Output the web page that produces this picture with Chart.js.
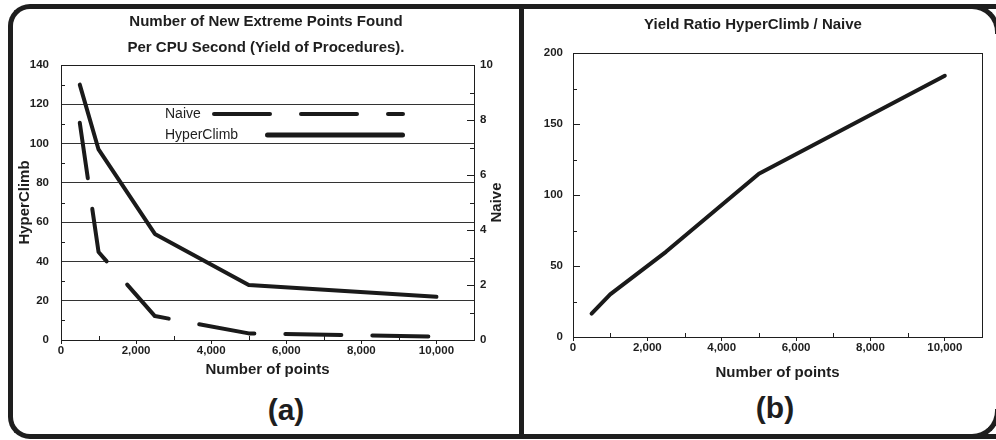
<!DOCTYPE html>
<html>
<head>
<meta charset="utf-8">
<script src="https://cdn.jsdelivr.net/npm/chart.js@4.4.1/dist/chart.umd.min.js"></script>
<style>
  html, body { margin: 0; padding: 0; background: #fff; overflow: hidden; }
  .stage { width: 996px; height: 440px; position: relative; overflow: hidden; font-family: "Liberation Sans", Arial, sans-serif; color: #1e1e1e; }
  .frame { position: absolute; left: 8px; top: 4px; width: 1000px; height: 435px; box-sizing: border-box; border: 5px solid #1e1e1e; border-right: none; border-radius: 22px 0 0 22px; }
  .corner { position: absolute; width: 30px; height: 30px; box-sizing: border-box; border: 5px solid #1e1e1e; }
  .corner.tr { left: 970px; top: 4px; border-left: none; border-bottom: none; border-top-right-radius: 28px; }
  .corner.br { left: 970px; top: 409px; border-left: none; border-top: none; border-bottom-right-radius: 28px; }
  .divider { position: absolute; left: 519px; top: 4px; width: 5px; height: 435px; background: #1e1e1e; }
  .panel { position: absolute; }
  .caption { position: absolute; font-weight: bold; font-size: 30px; line-height: 1; transform: translate(-50%, -50%); }
</style>
</head>
<body>
<div class="stage">
  <div class="frame"></div>
  <div class="corner tr"></div>
  <div class="corner br"></div>
  <div class="divider"></div>
  <div class="panel" style="left:13px; top:9px;"><canvas id="chart-yield" width="506" height="383"></canvas></div>
  <div class="panel" style="left:524px; top:9px;"><canvas id="chart-ratio" width="468" height="377"></canvas></div>
  <div class="caption" style="left:286px; top:410px;">(a)</div>
  <div class="caption" style="left:775px; top:408px;">(b)</div>
</div>

<script>
const pointCounts = [500, 1000, 2500, 5000, 10000];
const hyperClimbYield = [130, 97, 54, 28, 22];
const naiveYield = [7.9, 3.2, 0.87, 0.24, 0.12];
const yieldRatio = [16.5, 30, 60, 115, 184];

const xTickValues = [0, 2000, 4000, 6000, 8000, 10000];
const hyperClimbTicks = [0, 20, 40, 60, 80, 100, 120, 140];
const naiveTicks = [0, 2, 4, 6, 8, 10];
const ratioTicks = [0, 50, 100, 150, 200];

const INK = '#1e1e1e';
const FONT = '"Liberation Sans", Arial, sans-serif';
const tickFont = { family: FONT, size: 11.5, weight: 'bold' };
const titleFont = { family: FONT, size: 15, weight: 'bold' };

Chart.defaults.color = INK;
Chart.defaults.font.family = FONT;

const toPoints = (xs, ys) => xs.map((x, i) => ({ x, y: ys[i] }));
const fixedTicks = values => scale => { scale.ticks = values.map(v => ({ value: v })); };
const thousands = v => Number(v).toLocaleString('en-US');

// box around the plot area
const framePlugin = {
  id: 'frame',
  afterDraw(chart) {
    const { ctx, chartArea: a } = chart;
    ctx.save();
    ctx.strokeStyle = INK;
    ctx.lineWidth = 1;
    ctx.strokeRect(Math.round(a.left) + 0.5, Math.round(a.top) + 0.5, Math.round(a.width), Math.round(a.height));
    ctx.restore();
  }
};

// short tick marks pointing into the plot
const innerTicksPlugin = {
  id: 'innerTicks',
  afterDraw(chart, args, opts) {
    const { ctx } = chart;
    ctx.save();
    ctx.strokeStyle = INK;
    ctx.lineWidth = 1;
    (opts.marks || []).forEach(m => {
      const scale = chart.scales[m.axis];
      if (!scale) return;
      for (let v = m.from; v < scale.max; v += m.step) {
        const p = Math.round(scale.getPixelForValue(v)) + 0.5;
        ctx.beginPath();
        if (scale.position === 'bottom') {
          ctx.moveTo(p, scale.top); ctx.lineTo(p, scale.top - m.len);
        } else if (scale.position === 'left') {
          ctx.moveTo(scale.right, p); ctx.lineTo(scale.right + m.len, p);
        } else {
          ctx.moveTo(scale.left, p); ctx.lineTo(scale.left - m.len, p);
        }
        ctx.stroke();
      }
    });
    ctx.restore();
  }
};

// hand-placed legend inside the plot, using the dataset styles
const insetLegendPlugin = {
  id: 'insetLegend',
  afterDraw(chart, args, opts) {
    if (!opts.items) return;
    const { ctx, chartArea: a } = chart;
    ctx.save();
    opts.items.forEach(item => {
      const ds = chart.data.datasets[item.dataset];
      const y = a.top + item.y;
      ctx.fillStyle = INK;
      ctx.font = '14px ' + FONT;
      ctx.textBaseline = 'middle';
      ctx.fillText(ds.label, a.left + item.textX, y);
      ctx.strokeStyle = ds.borderColor;
      ctx.lineWidth = item.lineWidth;
      ctx.lineCap = 'round';
      ctx.setLineDash(ds.borderDash || []);
      ctx.beginPath();
      ctx.moveTo(a.left + item.from, y);
      ctx.lineTo(a.left + item.to, y);
      ctx.stroke();
    });
    ctx.restore();
  }
};

// right axis title that reads bottom-to-top like the left one
const sideTitlePlugin = {
  id: 'sideTitle',
  afterDraw(chart, args, opts) {
    if (!opts.text) return;
    const { ctx, chartArea: a } = chart;
    const scale = chart.scales[opts.axis];
    ctx.save();
    ctx.translate(scale.right - opts.inset, (a.top + a.bottom) / 2);
    ctx.rotate(-Math.PI / 2);
    ctx.fillStyle = INK;
    ctx.font = 'bold 15px ' + FONT;
    ctx.textAlign = 'center';
    ctx.textBaseline = 'middle';
    ctx.fillText(opts.text, 0, 0);
    ctx.restore();
  }
};

function xAxis(height, titlePadBottom) {
  return {
    type: 'linear',
    min: 0,
    max: 11000,
    afterBuildTicks: fixedTicks(xTickValues),
    afterFit: scale => { scale.height = height; },
    ticks: { font: tickFont, padding: 0, autoSkip: false, maxRotation: 0, callback: thousands },
    grid: { drawOnChartArea: false, drawTicks: true, tickLength: 4, tickColor: INK, tickWidth: 1 },
    border: { display: false },
    title: { display: true, text: 'Number of points', font: titleFont, padding: { top: 4, bottom: titlePadBottom } }
  };
}

new Chart(document.getElementById('chart-yield'), {
  type: 'line',
  data: {
    datasets: [
      {
        label: 'HyperClimb',
        data: toPoints(pointCounts, hyperClimbYield),
        yAxisID: 'y',
        borderColor: '#1a1a1a',
        borderWidth: 4,
        pointRadius: 0,
        borderJoinStyle: 'round',
        borderCapStyle: 'round'
      },
      {
        label: 'Naive',
        data: toPoints(pointCounts, naiveYield),
        yAxisID: 'y2',
        borderColor: '#1a1a1a',
        borderWidth: 4,
        borderDash: [56, 31],
        pointRadius: 0,
        borderJoinStyle: 'round',
        borderCapStyle: 'round'
      }
    ]
  },
  options: {
    responsive: false,
    animation: false,
    layout: { padding: 0 },
    plugins: {
      legend: { display: false },
      tooltip: { enabled: false },
      title: {
        display: true,
        text: ['Number of New Extreme Points Found', 'Per CPU Second (Yield of Procedures).'],
        font: { ...titleFont, lineHeight: 26 / 15 },
        color: INK,
        padding: { top: 0, bottom: 4 }
      },
      insetLegend: {
        items: [
          { dataset: 1, textX: 104, y: 49, from: 153, to: 342, lineWidth: 4 },
          { dataset: 0, textX: 104, y: 70, from: 206.5, to: 341.5, lineWidth: 5 }
        ]
      },
      sideTitle: { text: 'Naive', axis: 'y2', inset: 22 },
      innerTicks: {
        marks: [
          { axis: 'x', from: 1000, step: 2000, len: 4 },
          { axis: 'y', from: 10, step: 20, len: 4 },
          { axis: 'y2', from: 1, step: 2, len: 4 },
          { axis: 'y2', from: 2, step: 2, len: 7 }
        ]
      }
    },
    scales: {
      x: xAxis(52, 13),
      y: {
        position: 'left',
        min: 0,
        max: 140,
        afterBuildTicks: fixedTicks(hyperClimbTicks),
        afterFit: scale => { scale.width = 48; },
        ticks: { font: tickFont, padding: 12 },
        grid: { color: '#333', lineWidth: 1, drawTicks: false },
        border: { display: false },
        title: { display: true, text: 'HyperClimb', font: titleFont, padding: { top: 3, bottom: 0 } }
      },
      y2: {
        position: 'right',
        min: 0,
        max: 10,
        afterBuildTicks: fixedTicks(naiveTicks),
        afterFit: scale => { scale.width = 45; },
        ticks: { font: tickFont, padding: 6 },
        grid: { drawOnChartArea: false, drawTicks: false },
        border: { display: false }
      }
    }
  },
  plugins: [framePlugin, innerTicksPlugin, insetLegendPlugin, sideTitlePlugin]
});

new Chart(document.getElementById('chart-ratio'), {
  type: 'line',
  data: {
    datasets: [
      {
        label: 'Yield Ratio',
        data: toPoints(pointCounts, yieldRatio),
        borderColor: '#1a1a1a',
        borderWidth: 4,
        pointRadius: 0,
        borderJoinStyle: 'round',
        borderCapStyle: 'round'
      }
    ]
  },
  options: {
    responsive: false,
    animation: false,
    layout: { padding: { left: 0, right: 10, top: 0, bottom: 0 } },
    plugins: {
      legend: { display: false },
      tooltip: { enabled: false },
      title: {
        display: true,
        text: 'Yield Ratio HyperClimb / Naive',
        font: titleFont,
        color: INK,
        padding: { top: 7, bottom: 19 }
      },
      innerTicks: {
        marks: [
          { axis: 'x', from: 1000, step: 2000, len: 4 },
          { axis: 'y', from: 25, step: 50, len: 4 },
          { axis: 'y', from: 50, step: 50, len: 7 }
        ]
      }
    },
    scales: {
      x: xAxis(49, 4),
      y: {
        position: 'left',
        min: 0,
        max: 200,
        afterBuildTicks: fixedTicks(ratioTicks),
        afterFit: scale => { scale.width = 49; },
        ticks: { font: tickFont, padding: 10 },
        grid: { drawOnChartArea: false, drawTicks: false },
        border: { display: false }
      }
    }
  },
  plugins: [framePlugin, innerTicksPlugin]
});
</script>
</body>
</html>
